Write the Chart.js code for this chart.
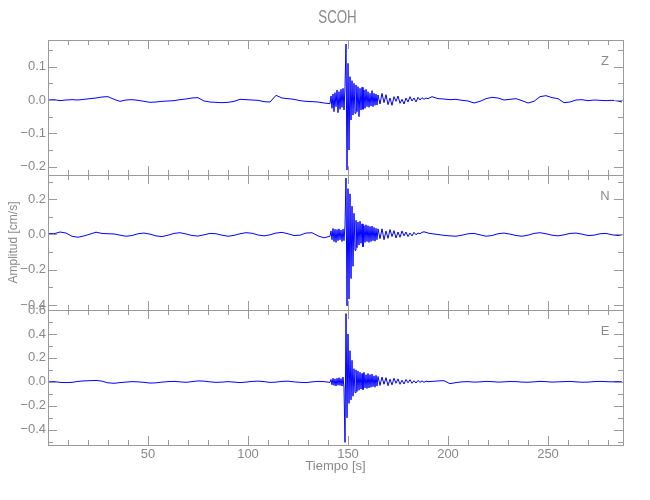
<!DOCTYPE html>
<html>
<head>
<meta charset="utf-8">
<script src="https://cdn.jsdelivr.net/npm/chart.js@4.4.1/dist/chart.umd.min.js"></script>
<style>
    body { margin: 0; background: #fff; }
    #marco { position: relative; width: 650px; height: 500px; }
    #marco canvas { position: absolute; left: 0; top: 0; }
</style>
</head>
<body>
<div id="marco">
    <canvas id="chartZ" width="650" height="500"></canvas>
    <canvas id="chartN" width="650" height="500"></canvas>
    <canvas id="chartE" width="650" height="500"></canvas>
</div>
<script>
// tiempo [s], muestras
const tiempo = [
    0, 3, 6, 9, 12, 15, 18, 21, 24, 27, 30, 33, 36, 39, 42, 45, 48, 51, 54, 57, 60, 63, 66, 69,
    72, 75, 78, 81, 84, 87, 90, 93, 96, 99, 102, 105, 108, 111, 114, 117, 120, 123, 126, 129, 132, 135, 138, 141,
    141.5, 142, 142.5, 143, 143.5, 144, 144.5, 145, 145.5, 146, 146.5, 147, 147.5, 148, 148.5, 149,
    149.5, 150, 150.5, 151, 151.5, 152, 152.5, 153, 153.5, 154, 154.5, 155, 155.5, 156, 156.5, 157,
    157.5, 158, 158.5, 159, 159.5, 160, 160.5, 161, 161.5, 162, 162.5, 163, 163.5, 164, 164.5, 165,
    166, 167, 168, 169, 170, 171, 172, 173, 174, 175, 176, 177, 178, 179, 180, 181, 182, 183, 184, 185, 186, 187, 188, 189, 190,
    192, 195, 198, 201, 204, 207, 210, 213, 216, 219, 222, 225, 228, 231, 234, 237, 240, 243, 246, 249,
    252, 255, 258, 261, 264, 267, 270, 273, 276, 279, 282, 285, 287
]

const ampZ = [
    0.000, 0.001, -0.002, 0.000, 0.001, 0.000, 0.002, 0.004, 0.006, 0.009, 0.010, 0.002, -0.004, 0.000, 0.001, -0.001,
    -0.004, -0.007, -0.006, -0.004, -0.003, -0.002, 0.001, 0.003, 0.006, 0.007, -0.003, -0.006, -0.007, -0.008, -0.007, -0.004,
    0.002, 0.001, 0.000, -0.001, -0.005, -0.006, 0.014, 0.006, 0.004, 0.002, -0.002, -0.004, -0.005, -0.006, -0.009, -0.011,
    0.012, -0.025, 0.018, -0.035, 0.022, -0.02, 0.03, -0.038, 0.025, -0.028, 0.032, -0.022, 0.035, -0.03, 0.04, 0.168,
    -0.21, 0.11, -0.15, 0.07, -0.06, 0.058, -0.045, 0.05, -0.04, 0.045, -0.035, 0.04, -0.05, 0.035, -0.03, 0.038,
    -0.028, 0.03, -0.025, 0.032, -0.02, 0.025, -0.022, 0.02, -0.018, 0.028, -0.02, 0.02, -0.016, 0.018, -0.015, 0.015,
    -0.012, 0.02, -0.008, 0.016, -0.014, 0.006, -0.016, 0.01, -0.004, 0.012, -0.01, 0.002, -0.012, 0.006, -0.006, 0.01,
    -0.003, 0.006, -0.006, 0.008, 0.000, 0.007, 0.002, 0.006, 0.004,
    0.010, 0.004, 0.003, 0.001, 0.002, -0.001, -0.003, -0.009, -0.004, 0.004, 0.008, 0.006, 0.000, 0.002, 0.004, -0.002,
    -0.009, -0.004, 0.010, 0.013, 0.007, 0.004, -0.008, -0.006, 0.000, 0.001, -0.002, 0.000, -0.001, -0.002, -0.001, -0.003, -0.006
]

const ampN = [
    0.005, 0.004, 0.014, 0.008, -0.010, -0.016, -0.008, 0.002, 0.013, 0.006, 0.004, 0.003, -0.004, -0.010, -0.006, 0.004,
    0.008, 0.002, -0.008, -0.012, -0.004, 0.006, 0.010, 0.003, -0.006, -0.009, -0.002, 0.006, 0.004, -0.004, -0.010, -0.005,
    0.004, 0.010, 0.007, -0.003, -0.008, -0.002, 0.008, 0.012, 0.004, -0.006, -0.004, 0.008, 0.010, -0.008, -0.019, -0.010,
    0.02, -0.03, 0.034, -0.04, 0.03, -0.045, 0.028, -0.035, 0.032, -0.03, 0.025, -0.04, 0.03, -0.035, 0.05, 0.32,
    -0.405, 0.26, -0.366, 0.23, -0.25, 0.16, -0.18, 0.12, -0.09, 0.08, -0.075, 0.07, -0.06, 0.075, -0.05, 0.06,
    -0.07, 0.05, -0.045, 0.055, -0.04, 0.05, -0.045, 0.045, -0.04, 0.048, -0.035, 0.04, -0.038, 0.035, -0.03, 0.032,
    -0.024, 0.032, -0.03, 0.02, -0.022, 0.028, -0.012, 0.022, -0.02, 0.014, -0.016, 0.02, -0.008, 0.014, -0.012, 0.008,
    -0.008, 0.012, -0.002, 0.008, 0.004, 0.012, 0.015, 0.012, 0.008,
    0.004, 0.000, -0.005, -0.008, -0.010, -0.004, 0.004, 0.006, -0.002, -0.010, -0.006, 0.004, 0.008, 0.002, -0.006, -0.010,
    -0.004, 0.006, 0.010, 0.004, -0.004, -0.008, -0.002, 0.006, 0.008, 0.002, -0.006, -0.004, 0.004, 0.006, -0.002, -0.006, -0.002
]

const ampE = [
    0.000, 0.002, -0.004, -0.006, -0.004, 0.004, 0.008, 0.010, 0.012, 0.006, -0.008, -0.012, -0.006, -0.002, 0.002, 0.000,
    -0.004, -0.010, -0.008, -0.002, 0.002, 0.004, 0.000, -0.004, 0.002, 0.008, 0.006, 0.000, -0.004, -0.002, 0.002, -0.002,
    -0.006, -0.002, 0.004, 0.006, 0.002, -0.004, -0.002, 0.004, 0.006, 0.000, -0.004, -0.006, 0.000, 0.004, 0.002, -0.004,
    0.02, -0.025, 0.03, -0.03, 0.025, -0.035, 0.03, -0.028, 0.035, -0.03, 0.028, -0.035, 0.04, -0.05, -0.505, 0.57,
    -0.3, 0.4, -0.18, 0.26, -0.15, 0.18, -0.12, 0.11, -0.09, 0.1, -0.08, 0.09, -0.07, 0.08, -0.06, 0.07,
    -0.065, 0.08, -0.05, 0.06, -0.055, 0.07, -0.05, 0.06, -0.045, 0.065, -0.04, 0.05, -0.045, 0.055, -0.035, 0.045,
    -0.03, 0.04, -0.02, 0.035, -0.032, 0.022, -0.025, 0.03, -0.012, 0.025, -0.02, 0.014, -0.018, 0.02, -0.008, 0.018,
    -0.012, 0.01, -0.01, 0.012, -0.004, 0.008, -0.004, 0.006, 0.002,
    0.004, 0.008, 0.010, -0.015, -0.006, 0.000, 0.002, -0.002, 0.000, 0.004, 0.002, -0.002, 0.000, 0.003, 0.002, -0.002,
    -0.003, 0.000, 0.004, 0.002, -0.002, 0.000, 0.002, 0.004, 0.000, -0.003, -0.002, 0.002, 0.004, 0.002, 0.000, 0.002, 0.000
]

const componentes = ['Z', 'N', 'E']
const ticksZ = [-0.2, -0.1, 0.0, 0.1]
const ticksN = [-0.4, -0.2, 0.0, 0.2]
const ticksE = [-0.4, -0.2, 0.0, 0.2, 0.4, 0.6]
const ticksTiempo = [50, 100, 150, 200, 250]

const FUENTE = "'Liberation Sans Narrow', 'Liberation Sans', sans-serif"
const GRIS = '#8a8a8a'
const BORDE = '#9a9a9a'
const AZUL = '#0000ff'
const T_MAX = 287.5

const paneles = [
    { id: 'chartZ', datos: ampZ, ticks: ticksZ, min: -0.225, max: 0.18, menor: 0.05, top: 40 },
    { id: 'chartN', datos: ampN, ticks: ticksN, min: -0.428, max: 0.337, menor: 0.1, top: 175 },
    { id: 'chartE', datos: ampE, ticks: ticksE, min: -0.527, max: 0.6, menor: 0.1, top: 310 }
]

const formato = v => {
    if (Math.abs(v) < 1e-9) return '0.0'
    return v.toFixed(1).replace('-', '\u2212')
}

// marco y marcas hacia adentro, como en el grafico original
const marcas = {
    id: 'marcas',
    afterDraw(chart, args, opts) {
        const { ctx, chartArea: a } = chart
        const sx = chart.scales.x
        const sy = chart.scales.y
        ctx.save()
        ctx.strokeStyle = BORDE
        ctx.lineWidth = 1
        ctx.strokeRect(a.left + 0.5, a.top + 0.5, a.right - a.left, a.bottom - a.top)
        ctx.beginPath()
        for (let t = 10; t < T_MAX; t += 10) {
            let px = Math.round(sx.getPixelForValue(t)) + 0.5
            let len = t % 50 === 0 ? 9 : 5
            ctx.moveTo(px, a.top); ctx.lineTo(px, a.top + len)
            ctx.moveTo(px, a.bottom); ctx.lineTo(px, a.bottom - len)
        }
        let paso = opts.menor
        for (let k = Math.ceil(sy.min / paso - 1e-6); k * paso <= sy.max + 1e-6; k++) {
            let v = k * paso
            let py = Math.round(sy.getPixelForValue(v)) + 0.5
            let mayor = opts.ticks.some(m => Math.abs(m - v) < 1e-6)
            let len = mayor ? 9 : 5
            ctx.moveTo(a.left, py); ctx.lineTo(a.left + len, py)
            ctx.moveTo(a.right, py); ctx.lineTo(a.right - len, py)
        }
        ctx.stroke()
        ctx.fillStyle = GRIS
        ctx.font = `13px ${FUENTE}`
        ctx.textAlign = 'center'
        ctx.textBaseline = 'middle'
        ctx.fillText(opts.nombre, a.right - 18, a.top + 21)
        if (opts.titulo) {
            // titulo angosto, como la fuente del original
            ctx.translate((a.left + a.right) / 2 + 2, 18)
            ctx.scale(0.74, 1)
            ctx.font = `18px ${FUENTE}`
            ctx.fillText(opts.titulo, 0, 0)
        }
        ctx.restore()
    }
}

const crearPanel = (p, i) => {
    let ultimo = i === paneles.length - 1
    let puntos = tiempo.map((t, k) => ({ x: t, y: p.datos[k] }))
    return new Chart(document.getElementById(p.id), {
        type: 'line',
        data: {
            datasets: [{
                label: componentes[i],
                data: puntos,
                borderColor: AZUL,
                borderWidth: 1,
                pointRadius: 0,
                tension: 0
            }]
        },
        options: {
            responsive: false,
            animation: false,
            events: [],
            layout: {
                padding: { left: 0, right: 27, top: p.top, bottom: 500 - p.top - 135 - (ultimo ? 30 : 0) }
            },
            plugins: {
                legend: { display: false },
                tooltip: { enabled: false },
                marcas: { nombre: componentes[i], ticks: p.ticks, menor: p.menor, titulo: i === 0 ? 'SCOH' : null }
            },
            scales: {
                x: {
                    type: 'linear',
                    min: 0,
                    max: T_MAX,
                    display: ultimo,
                    grid: { display: false, drawTicks: false },
                    border: { display: false },
                    afterBuildTicks: s => { s.ticks = ticksTiempo.map(v => ({ value: v })) },
                    afterFit: s => { s.height = ultimo ? 30 : 0 },
                    ticks: { color: GRIS, font: { family: FUENTE, size: 13 }, padding: 2, autoSkip: false, maxRotation: 0 },
                    title: {
                        display: true,
                        text: 'Tiempo [s]',
                        color: GRIS,
                        font: { family: FUENTE, size: 13 },
                        padding: { top: 0, bottom: 1 }
                    }
                },
                y: {
                    type: 'linear',
                    min: p.min,
                    max: p.max,
                    grid: { display: false, drawTicks: false },
                    border: { display: false },
                    afterBuildTicks: s => { s.ticks = p.ticks.map(v => ({ value: v })) },
                    afterFit: s => { s.width = 48 },
                    ticks: {
                        color: GRIS,
                        font: { family: FUENTE, size: 13 },
                        padding: 2,
                        autoSkip: false,
                        callback: v => formato(v)
                    },
                    title: {
                        display: componentes[i] === 'N',
                        text: 'Amplitud [cm/s]',
                        color: GRIS,
                        font: { family: FUENTE, size: 12 },
                        padding: { top: 6, bottom: 0 }
                    }
                }
            }
        },
        plugins: [marcas]
    })
}

paneles.forEach(crearPanel)
</script>
</body>
</html>
